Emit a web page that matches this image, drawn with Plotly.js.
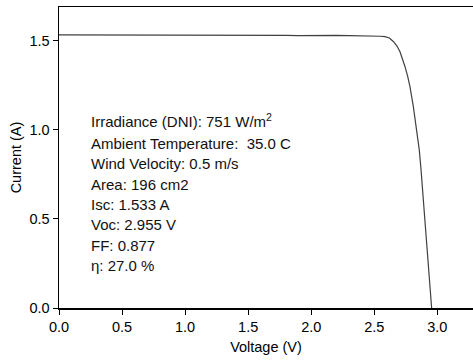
<!DOCTYPE html>
<html>
<head>
<meta charset="utf-8">
<script src="https://cdn.plot.ly/plotly-3.0.1.min.js"></script>
<style>
html,body{margin:0;padding:0;background:#fff;overflow:hidden;}
#chart{width:473px;height:361px;}
</style>
</head>
<body>
<div id="chart"></div>
<script>
// I-V curve data
const voltage = [0.0,0.1,0.2,0.3,0.4,0.5,0.6,0.7,0.8,0.9,1.0,1.1,1.2,1.3,1.4,1.5,1.6,1.7,1.8,1.9,2.0,2.1,2.2,2.3,2.4,
  2.5,2.55,2.585,2.62,2.653,2.68,2.704,2.725,2.744,2.765,2.783,2.81,2.836,2.857,2.871,2.889,2.905,2.921,2.936,2.950,2.955];
const current = [1.533,1.533,1.533,1.533,1.533,1.532,1.531,1.533,1.531,1.533,1.531,1.532,1.531,1.531,1.531,1.531,1.531,1.530,1.530,1.528,1.530,1.528,1.530,1.528,1.528,
  1.527,1.525,1.523,1.515,1.494,1.470,1.438,1.400,1.354,1.300,1.242,1.130,0.999,0.887,0.774,0.606,0.470,0.325,0.165,0.010,0.0];

const infoLines = [
  "Irradiance (DNI): 751 W/m<sup>2</sup>",
  "Ambient Temperature:  35.0 C",
  "Wind Velocity: 0.5 m/s",
  "Area: 196 cm2",
  "Isc: 1.533 A",
  "Voc: 2.955 V",
  "FF: 0.877",
  "\u03b7: 27.0 %"
];
const xTicks = [0, 0.5, 1.0, 1.5, 2.0, 2.5, 3.0];
const yTicks = [0, 0.5, 1.0, 1.5];

const font = {family: '"Liberation Sans", Arial, Helvetica, sans-serif', size: 14.5, color: '#000'};

const annotations = infoLines.map((t, i) => ({
  text: t,
  x: 0.235,
  y: 1.0365 - i * 0.1139 + (i === 0 ? 0.017 : 0),
  xref: 'x', yref: 'y',
  xanchor: 'left', yanchor: 'middle',
  showarrow: false,
  align: 'left',
  font: {family: font.family, size: 15, color: '#111'}
}));

const trace = {
  x: voltage, y: current,
  type: 'scatter', mode: 'lines',
  line: {color: '#404040', width: 1.2},
  hoverinfo: 'skip'
};

const layout = {
  width: 473, height: 361,
  margin: {l: 59, r: 0, t: 7, b: 53, pad: 0},
  paper_bgcolor: '#fff', plot_bgcolor: '#fff',
  font: font,
  showlegend: false,
  xaxis: {
    range: [0, 3.283],
    tickvals: xTicks, tickformat: '.1f',
    ticks: 'outside', ticklen: 5, tickwidth: 1, tickcolor: '#000',
    showline: true, linecolor: '#000', linewidth: 1.5, mirror: true,
    showgrid: false, zeroline: false,
    title: {text: 'Voltage (V)', font: {family: font.family, size: 14.5, color: '#000'}, standoff: 8}
  },
  yaxis: {
    range: [0, 1.689],
    tickvals: yTicks, tickformat: '.1f',
    ticks: 'outside', ticklen: 5, tickwidth: 1, tickcolor: '#000',
    showline: true, linecolor: '#000', linewidth: 1.5, mirror: false,
    showgrid: false, zeroline: false,
    title: {text: 'Current (A)', font: {family: font.family, size: 14.5, color: '#000'}, standoff: 4}
  },
  annotations: annotations
};

Plotly.newPlot('chart', [trace], layout, {displayModeBar: false, staticPlot: true});
</script>
</body>
</html>
